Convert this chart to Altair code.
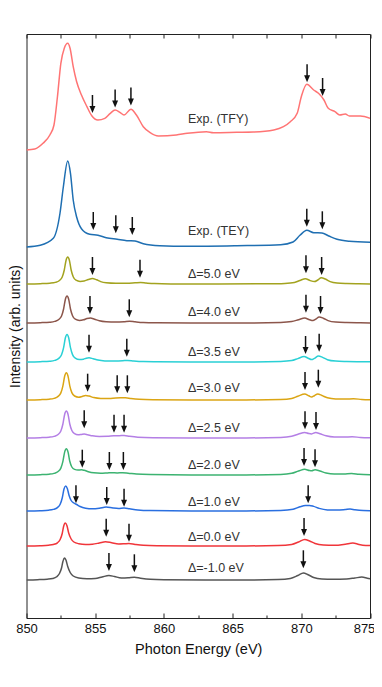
import altair as alt
import pandas as pd

FONT = "Liberation Sans, Arial, sans-serif"

SERIES = ["Exp. (TFY)", "Exp. (TEY)", "Δ=5.0 eV", "Δ=4.0 eV", "Δ=3.5 eV", "Δ=3.0 eV",
          "Δ=2.5 eV", "Δ=2.0 eV", "Δ=1.0 eV", "Δ=0.0 eV", "Δ=-1.0 eV"]
COLORS = ["#ff7474", "#1f6fb2", "#a3a31f", "#8c564b", "#2ad0d5", "#dba514",
          "#b47fe5", "#3cb371", "#2a6fe0", "#f0353a", "#555555"]
OFFSETS = [468, 371, 334, 295, 256, 218, 180, 143, 107, 72, 38]
LABEL_Y = [499, 387, 343.7, 305.7, 266.3, 230.3, 189.7, 153, 115.7, 81.3, 50.3]
LABEL_X = 861.75

MAJOR_TICKS = [850, 855, 860, 865, 870, 875]
MINOR_TICKS = [852.5, 857.5, 862.5, 867.5, 872.5]
TOP_TICKS = [850, 852.5, 855, 857.5, 860, 862.5, 865, 867.5, 870, 872.5, 875]

# (energy, intensity above the curve's own baseline)
TFY = [(850, 0), (850.6, 1), (851.2, 6.7), (851.7, 15), (852.0, 25), (852.25, 53), (852.5, 86.7),
       (852.75, 101.7), (853.0, 106.7), (853.17, 101.7), (853.4, 83.3), (853.65, 68.3), (854.0, 55),
       (854.4, 43.3), (854.75, 34.3), (855.2, 30), (855.7, 31.7), (856.1, 36.7), (856.45, 40),
       (856.8, 37.7), (857.1, 35), (857.6, 40.7), (858.0, 35), (858.5, 23.3), (859.0, 17.3),
       (859.6, 14), (860.9, 15), (861.7, 16.7), (863.1, 18.3), (863.6, 17.3), (865.3, 17.7),
       (866.5, 18), (868.0, 20), (868.7, 23.3), (869.2, 28.3), (869.7, 36.7), (870.0, 53.3),
       (870.4, 65.7), (870.9, 60), (871.25, 56.7), (871.65, 50), (871.96, 41.7), (872.45, 38.3),
       (872.8, 35), (873.2, 36), (873.5, 34), (874.3, 34), (875, 31.7)]
TEY = [(850, 0), (851.0, 1.7), (851.95, 8.7), (852.44, 34), (852.68, 60), (853.0, 86), (853.2, 73.7),
       (853.4, 47), (853.65, 30), (854.0, 18.3), (854.6, 12.7), (855.2, 11.7), (855.8, 9.3),
       (856.6, 7.7), (857.3, 6.3), (857.9, 6), (858.5, 3.3), (859.7, 1.3), (861.7, 0.7),
       (865.3, 1.3), (868.5, 2.3), (869.4, 5), (869.9, 11.7), (870.4, 16.7), (870.9, 14.3),
       (871.5, 14), (872.0, 11), (872.6, 7.7), (873.5, 5.7), (875, 4.7)]
D50 = [(850, 0), (851, 0.3), (851.7, 0.8), (852.1, 1.6), (852.4, 3.5), (852.6, 7), (852.75, 14),
       (852.88, 23.8), (853.0, 27), (853.12, 23.8), (853.25, 14), (853.4, 7.3), (853.6, 3.8),
       (853.9, 2.6), (854.2, 3), (854.5, 4.5), (854.8, 5.5), (855.1, 4.2), (855.4, 2.4), (855.8, 1.3),
       (856.5, 0.8), (857.3, 0.8), (857.9, 1.2), (858.3, 1.5), (858.7, 1), (859.3, 0.4), (860.5, 0.1),
       (864, 0), (867.5, 0.2), (868.8, 0.6), (869.5, 1.5), (869.9, 3.5), (870.3, 5.3), (870.65, 3.4),
       (870.95, 2.4), (871.2, 4), (871.45, 6.3), (871.75, 5), (872.1, 2.4), (872.6, 0.9),
       (873.3, 0.4), (874.2, 0.2), (875, 0.1)]
D40 = [(850, 0), (851, 0.3), (851.7, 0.8), (852.05, 1.6), (852.35, 3.5), (852.55, 7), (852.7, 14),
       (852.83, 23.8), (852.95, 27), (853.07, 23.8), (853.2, 14), (853.35, 7.3), (853.55, 3.8),
       (853.85, 2.6), (854.15, 3.2), (854.4, 4.4), (854.65, 5), (854.95, 3.8), (855.3, 2.2),
       (855.8, 1.2), (856.5, 0.9), (857.1, 1.3), (857.5, 1.8), (857.9, 1.2), (858.5, 0.5),
       (859.5, 0.2), (862, 0), (866, 0), (868.5, 0.5), (869.3, 1.4), (869.8, 3.3), (870.25, 5),
       (870.6, 3.2), (870.85, 2.4), (871.05, 3.8), (871.3, 6), (871.6, 4.8), (871.95, 2.4),
       (872.5, 0.9), (873.3, 0.4), (874.3, 0.2), (875, 0.1)]
D35 = [(850, 0), (851, 0.3), (851.7, 0.8), (852.05, 1.6), (852.35, 3.6), (852.55, 7.2), (852.7, 14.3),
       (852.83, 24.2), (852.95, 27.5), (853.07, 24.2), (853.2, 14.3), (853.35, 7.4), (853.55, 3.8),
       (853.85, 2.4), (854.15, 2.8), (854.35, 3.8), (854.55, 4.2), (854.85, 3.2), (855.2, 1.9),
       (855.7, 1.1), (856.4, 0.9), (857.0, 1.2), (857.35, 1.6), (857.8, 1.0), (858.5, 0.4),
       (859.5, 0.2), (862, 0), (866, 0), (868.5, 0.5), (869.3, 1.4), (869.75, 3.4), (870.2, 5.5),
       (870.5, 3.8), (870.75, 2.4), (870.95, 3.6), (871.25, 6), (871.55, 4.6), (871.9, 2.3),
       (872.5, 0.9), (873.3, 0.5), (874.3, 0.3), (875, 0.2)]
D30 = [(850, 0), (851, 0.3), (851.65, 0.8), (852.0, 1.6), (852.3, 3.6), (852.5, 7.1), (852.65, 14.2),
       (852.78, 24), (852.9, 27.3), (853.02, 24), (853.15, 14.2), (853.3, 7.4), (853.5, 4),
       (853.8, 2.8), (854.05, 3.5), (854.3, 4.5), (854.55, 3.9), (854.9, 2.4), (855.4, 1.5),
       (856.0, 1.4), (856.5, 2), (856.85, 2.2), (857.2, 2.3), (857.6, 1.5), (858.2, 0.7),
       (859.2, 0.3), (862, 0.1), (866, 0.1), (868.5, 0.6), (869.3, 1.6), (869.75, 3.8),
       (870.25, 6), (870.55, 4.2), (870.75, 3), (870.95, 4.3), (871.2, 6), (871.5, 4.5),
       (871.9, 2.2), (872.5, 1), (873.2, 0.9), (873.8, 1.2), (874.4, 0.6), (875, 0.3)]
D25 = [(850, 0), (851, 0.3), (851.65, 0.8), (852.0, 1.6), (852.3, 3.5), (852.5, 7), (852.65, 14),
       (852.78, 23.8), (852.9, 27), (853.02, 23.8), (853.15, 14), (853.3, 7.5), (853.5, 4.3),
       (853.75, 3.2), (854.0, 3.6), (854.2, 4), (854.45, 3.3), (854.8, 2.2), (855.3, 1.6),
       (855.9, 1.7), (856.35, 2.3), (856.75, 2.3), (857.1, 2.5), (857.5, 1.7), (858.1, 0.8),
       (859.2, 0.3), (862, 0.1), (866, 0.1), (868.5, 0.6), (869.3, 1.7), (869.8, 4), (870.25, 5.6),
       (870.55, 4.4), (870.75, 4.1), (871.05, 5.5), (871.35, 4.3), (871.8, 2.2), (872.4, 1),
       (873.1, 0.9), (873.7, 1.2), (874.3, 0.6), (875, 0.3)]
D20 = [(850, 0), (851, 0.3), (851.65, 0.8), (852.0, 1.6), (852.3, 3.5), (852.5, 6.9), (852.65, 13.7),
       (852.78, 23.1), (852.9, 26.3), (853.02, 23.1), (853.15, 13.7), (853.3, 8), (853.5, 5.6),
       (853.75, 5), (854.0, 5.2), (854.2, 4.7), (854.5, 3.3), (854.9, 2.2), (855.4, 1.8),
       (855.9, 2.1), (856.2, 2.3), (856.6, 2.1), (857.0, 2.3), (857.4, 1.8), (858.0, 0.9),
       (859.0, 0.4), (862, 0.1), (866, 0.1), (868.5, 0.6), (869.3, 1.7), (869.8, 4), (870.25, 5.7),
       (870.6, 4.5), (870.75, 4.3), (871.0, 5.3), (871.35, 4), (871.8, 2), (872.4, 0.9),
       (873.1, 1), (873.65, 1.5), (874.2, 0.8), (875, 0.3)]
D10 = [(850, 0), (851, 0.3), (851.6, 0.8), (851.95, 1.6), (852.25, 3.4), (852.45, 6.7), (852.6, 13),
       (852.73, 22), (852.85, 25), (852.97, 22.5), (853.1, 15.5), (853.25, 10.5), (853.45, 8),
       (853.65, 6.5), (853.9, 4.5), (854.3, 2.8), (854.8, 2.2), (855.3, 2.8), (855.8, 4),
       (856.3, 3), (856.7, 2.6), (857.1, 3), (857.5, 2.2), (858.1, 1), (859.0, 0.4), (862, 0.1),
       (866, 0.1), (868.5, 0.6), (869.4, 1.8), (869.9, 4.2), (870.3, 5.5), (870.6, 5.6),
       (870.9, 4.6), (871.3, 2.6), (871.9, 1.1), (872.6, 0.9), (873.2, 1.5), (873.55, 2),
       (873.9, 1.3), (874.5, 0.5), (875, 0.3)]
D00 = [(850, 0), (851, 0.3), (851.6, 0.8), (851.95, 1.5), (852.25, 3.2), (852.45, 6.5), (852.6, 12.5),
       (852.7, 19.5), (852.82, 23), (852.94, 20.5), (853.07, 13), (853.25, 7), (853.45, 4),
       (853.8, 2.3), (854.3, 1.6), (854.8, 1.8), (855.3, 3), (855.75, 4.3), (856.2, 3.2),
       (856.7, 2), (857.1, 2.2), (857.45, 2.5), (857.9, 1.6), (858.5, 0.7), (859.5, 0.3),
       (862, 0.1), (866, 0.1), (868.3, 0.5), (869.3, 1.6), (869.8, 4), (870.25, 6.5), (870.6, 5),
       (871.0, 2.5), (871.6, 1), (872.4, 0.7), (873.2, 1.8), (873.75, 3), (874.2, 1.6),
       (874.7, 0.6), (875, 0.4)]
DM10 = [(850, 0), (850.8, 0.3), (851.5, 0.8), (851.9, 1.5), (852.2, 3.3), (852.4, 6.5), (852.55, 12),
        (852.65, 18.5), (852.75, 22), (852.87, 20), (853.0, 13.5), (853.18, 7.5), (853.4, 4),
        (853.8, 2), (854.4, 1.3), (855.0, 1.5), (855.5, 3), (856.0, 4.5), (856.4, 3.5), (856.9, 2),
        (857.4, 2.2), (857.85, 2.8), (858.3, 1.8), (859.0, 0.7), (860, 0.3), (863, 0.1),
        (866.5, 0.1), (868.3, 0.5), (869.2, 1.6), (869.75, 4.5), (870.15, 7), (870.5, 5.2),
        (870.9, 2.5), (871.5, 1), (872.3, 0.7), (873.3, 1), (873.9, 2), (874.4, 2.9), (874.8, 1.8),
        (875, 1.2)]
CURVES = [TFY, TEY, D50, D40, D35, D30, D25, D20, D10, D00, DM10]

# arrow tips: (energy, absolute intensity of the arrow tip)
ARROWS_TFY = [(854.8, 505), (856.45, 510.5), (857.6, 512.5), (870.42, 535.8), (871.55, 522)]
ARROWS_TEY = [(854.86, 388), (856.5, 384.7), (857.7, 383), (870.4, 391.3), (871.53, 388.7)]
ARROWS_D50 = [(854.8, 343), (858.26, 340.3), (870.34, 344.7), (871.48, 343)]
ARROWS_D40 = [(854.62, 304), (857.48, 300.7), (870.34, 305.3), (871.4, 304)]
ARROWS_D35 = [(854.55, 265.3), (857.3, 261.3), (870.31, 264), (871.3, 266.3)]
ARROWS_D30 = [(854.45, 226.3), (856.6, 224.7), (857.34, 224.7), (870.27, 228), (871.24, 230.3)]
ARROWS_D25 = [(854.2, 189.7), (856.37, 185.3), (857.1, 185.3), (870.27, 188.7), (871.07, 188)]
ARROWS_D20 = [(854.06, 150.3), (856.03, 148), (857.05, 148), (870.2, 152), (871.0, 150.7)]
ARROWS_D10 = [(853.6, 114.7), (855.84, 113), (857.1, 111.3), (870.5, 114.7)]
ARROWS_D00 = [(855.8, 81.3), (857.46, 76.3), (870.2, 82)]
ARROWS_DM10 = [(856.0, 47), (857.85, 45.7), (870.15, 49.7)]
ARROWS = [ARROWS_TFY, ARROWS_TEY, ARROWS_D50, ARROWS_D40, ARROWS_D35, ARROWS_D30,
          ARROWS_D25, ARROWS_D20, ARROWS_D10, ARROWS_D00, ARROWS_DM10]

line_rows = []
for name, off, curve in zip(SERIES, OFFSETS, CURVES):
    for e, h in curve:
        line_rows.append({"series": name, "E": e, "I": off + h})
line_df = pd.DataFrame(line_rows)

arrow_rows = []
for name, arr in zip(SERIES, ARROWS):
    for e, tip in arr:
        arrow_rows.append({"series": name, "E": e, "tip": tip})
arrow_df = pd.DataFrame(arrow_rows)

label_df = pd.DataFrame({"label": SERIES, "LY": LABEL_Y, "LX": [LABEL_X] * len(SERIES)})

x_scale = alt.Scale(domain=[850, 875], nice=False, zero=False)
y_scale = alt.Scale(domain=[0, 584], nice=False, zero=False)

lines = alt.Chart(line_df).mark_line(strokeWidth=1.5, interpolate="monotone", clip=True).encode(
    x=alt.X("E:Q", scale=x_scale, axis=alt.Axis(
        orient="bottom", values=MAJOR_TICKS, format="d", tickSize=5, offset=-5,
        domain=False, grid=False, labelFontSize=13, labelPadding=4, labelFlush=False,
        labelOffset={"condition": {"test": "datum.value >= 875", "value": -6}, "value": 0},
        labelColor="#111", tickColor="#222", tickWidth=1,
        title="Photon Energy (eV)", titleFontSize=14.5, titleFontWeight="normal",
        titlePadding=7, titleColor="#111")),
    y=alt.Y("I:Q", scale=y_scale, axis=alt.Axis(
        labels=False, ticks=False, domain=False, grid=False,
        title="Intensity (arb. units)", titleFontSize=14, titleFontWeight="normal",
        titlePadding=4, titleColor="#111")),
    color=alt.Color("series:N", scale=alt.Scale(domain=SERIES, range=COLORS), legend=None),
)

shafts = alt.Chart(arrow_df).mark_rule(color="#111", strokeWidth=1.5, yOffset=-4, y2Offset=-18).encode(
    x=alt.X("E:Q", scale=x_scale, axis=alt.Axis(
        orient="top", values=TOP_TICKS, tickSize=4, offset=-4, labels=False,
        domain=False, grid=False, title=None, tickColor="#222")),
    y=alt.Y("tip:Q", scale=y_scale, axis=None),
    y2="tip:Q",
)

heads = alt.Chart(arrow_df).mark_point(
    shape="M-0.85,-2L0.85,-2L0,0Z", filled=True, size=49, color="#111", opacity=1, strokeWidth=0
).encode(
    x=alt.X("E:Q", scale=x_scale, axis=None),
    y=alt.Y("tip:Q", scale=y_scale, axis=None),
)

labels = alt.Chart(label_df).mark_text(
    align="left", baseline="middle", fontSize=12.5, font=FONT, color="#333"
).encode(
    x=alt.X("LX:Q", scale=x_scale, axis=alt.Axis(
        orient="bottom", values=MINOR_TICKS, tickSize=3, offset=-3, labels=False,
        domain=False, grid=False, title=None, tickColor="#222")),
    y=alt.Y("LY:Q", scale=y_scale, axis=None),
    text="label:N",
)

chart = alt.layer(lines, shafts, heads, labels).resolve_axis(
    x="independent", y="independent"
).properties(
    width=343.5, height=584,
    autosize=alt.AutoSizeParams(type="none"),
    padding={"left": 18.5, "top": 26, "right": 4, "bottom": 61},
).configure_view(
    stroke="#222", strokeWidth=1
).configure_axis(
    labelFont=FONT, titleFont=FONT
)

chart.save("out.html", embed_options={"renderer": "svg", "actions": False})
